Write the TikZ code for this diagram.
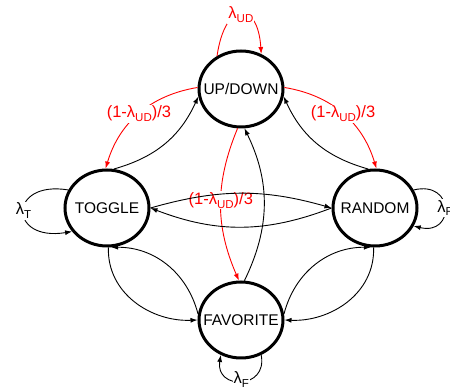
\documentclass[tikz,border=0pt]{standalone}
\usepackage{fontspec}
\setmainfont{Liberation Sans}
\usetikzlibrary{shapes.geometric,arrows.meta}
% zero-width box so the ellipse size comes only from its minimum dimensions
\newcommand\ctext[1]{\makebox[0pt]{#1}}
% lowered index after lambda
\newcommand\lowsub[1]{\raisebox{-0.45ex}{\fontsize{11.5}{11.5}\selectfont #1}}

\begin{document}
\begin{tikzpicture}[x=1pt,y=1pt,
  state/.style={ellipse, draw, line width=3pt, minimum width=84pt,
    minimum height=76pt, inner sep=0pt, font=\fontsize{15.5}{16}\selectfont},
  edge/.style={line width=0.9pt, -{Latex[length=7pt,width=5pt]}},
  redge/.style={edge, red},
  lab/.style={fill=white, inner sep=1pt, font=\fontsize{16.5}{17}\selectfont},
  rlab/.style={lab, text=red}]
\useasboundingbox (0,0) rectangle (450,390);

% states
\node[state] (ud) at (241,301) {\ctext{UP/DOWN}};
\node[state] (tg) at (107,182) {\ctext{TOGGLE}};
\node[state] (rd) at (375,182) {\ctext{RANDOM}};
\node[state] (fv) at (241,70)  {\ctext{FAVORITE}};

% self-loops
\draw[redge] (ud.126) .. controls (225,390) and (258,390) .. (ud.60)
  node[rlab,pos=0.5,yshift=-1pt] (lud) {λ\lowsub{UD}};
\draw[edge] (tg.155) .. controls (8,210) and (8,148) .. (tg.214)
  node[lab,pos=0.5] (ltg) {λ\lowsub{T}};
\draw[edge] (rd.25) .. controls (455,210) and (455,154) .. (rd.-25)
  node[lab,pos=0.5,xshift=1pt] (lrd) {λ\lowsub{R}};
\draw[edge] (fv.-60) .. controls (268,0) and (215,0) .. (fv.-120)
  node[lab,pos=0.5,yshift=2pt] (lfv) {λ\lowsub{F}};

% transitions out of UP/DOWN
\draw[redge] (ud.178) to[bend right=32]
  node[rlab] (l1) {(1-λ\lowsub{UD})/3} (tg.92);
\draw[redge] (ud.2) to[bend left=32]
  node[rlab] (l2) {(1-λ\lowsub{UD})/3} (rd.88);
\draw[redge] (ud.-95) to[bend right=23]
  node[rlab,pos=0.47] (l3) {(1-λ\lowsub{UD})/3} (fv.93);

% transitions back to UP/DOWN
\draw[edge] (tg.80) to[bend right=25] (ud.190);
\draw[edge] (rd.100) to[bend left=25] (ud.-10);
\draw[edge] (fv.85) to[bend right=26] (ud.-85);

% TOGGLE <-> RANDOM
\draw[edge] (tg.east) to[bend left=16] (rd.west);
\draw[edge] (rd.west) to[bend left=21] (tg.east);

% TOGGLE <-> FAVORITE
\draw[edge] (tg.-88) .. controls (107,96) and (152,68) .. (fv.180);
\draw[edge] (fv.172) to[bend right=38] (tg.-84);

% RANDOM <-> FAVORITE
\draw[edge] (rd.-92) .. controls (375,96) and (330,68) .. (fv.0);
\draw[edge] (fv.8) to[bend left=38] (rd.-96);
\end{tikzpicture}
\end{document}
